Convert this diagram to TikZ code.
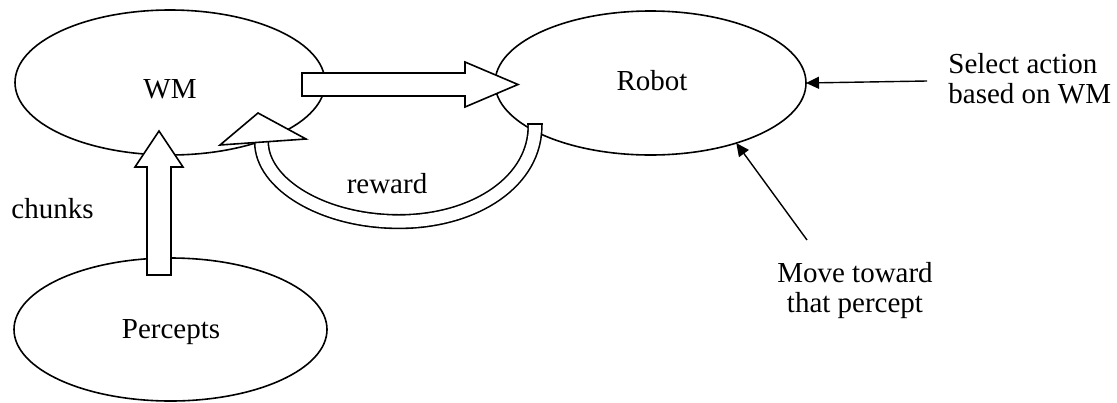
\documentclass[tikz,border=0pt]{standalone}
\usepackage{fontspec}
\setmainfont{Liberation Serif}
\usetikzlibrary{shapes.geometric,arrows.meta,positioning}

\tikzset{
  blob/.style = {draw, ellipse, line width = 0.8pt, inner sep = 0pt, outer sep = 0pt},
  hollow/.style = {draw, fill = white, line width = 0.8pt, line join = miter},
  pointer/.style = {-{Triangle[length = 6.5pt, width = 6pt]}, line width = 0.7pt},
  lbl/.style = {font = \fontsize{14.5}{15}\selectfont, inner sep = 0pt}
}

\begin{document}
\begin{tikzpicture}[x = 0.5pt, y = -0.5pt]
    \useasboundingbox (0,0) rectangle (1117,402);
    % the three ellipses
    \node[blob, minimum width = 155pt, minimum height = 72.5pt] (wm) at (170,82.5) {};
    \node[blob, minimum width = 155.5pt, minimum height = 72pt] (robot) at (650.5,83) {};
    \node[blob, minimum width = 156.5pt, minimum height = 71.5pt] (percepts) at (170.5,329.5) {};
    \begin{scope}[every node/.append style = {lbl, anchor = base}]
        \node (wmtext) at (170,98) {WM};
        \node (robottext) at (652,90) {Robot};
        \node (percepttext) at (171,338) {Percepts};
        \node (rewardtext) at (387,193) {reward};
        \node (chunktext) at (52.5,218) {chunks};
    \end{scope}
    \node[lbl, anchor = north west, align = left] (select) at (948,53) {Select action\\based on WM};
    \node[lbl, anchor = north, align = center] (move) at (855,262) {Move toward\\that percept};
    % end points of the arrows
    \coordinate (wmout) at (302,84.5);
    \coordinate (robotin) at (518,84.5);
    \coordinate (percout) at (159,275);
    \coordinate (wmin) at (159,131);
    \coordinate (robotback) at (535,124);
    \coordinate (shaftend) at (261.5,142);
    \coordinate (selecttail) at (927,81);
    \coordinate (movetail) at (807,240);
    % block arrows
    \draw[hollow] (wmout) ++(0,-11.5) -- ++(163,0) -- ++(0,-11) -- (robotin)
        -- ++(-53,22.5) -- ++(0,-11) -- ++(-163,0) -- cycle;
    \draw[hollow] (percout) ++(-12,0) -- ++(0,-108) -- ++(-12,0) -- (wmin)
        -- ++(24,36) -- ++(-12,0) -- ++(0,108) -- cycle;
    \draw[line width = 0.8pt, double = white, double distance = 6pt]
        (robotback) .. controls (536.5,181) and (475,221.6) .. (399,221.6)
        .. controls (323,221.6) and (261.5,184) .. (shaftend);
    \draw[line width = 0.8pt] ([xshift = -3.8pt]robotback) -- ([xshift = 3.8pt]robotback);
    \draw[hollow] (shaftend) ++(-41.5,3) -- ++(38,-32) -- ++(48,26) -- cycle;
    % thin arrows
    \draw[pointer] (selecttail) -- (robot.east);
    \draw[pointer] (movetail) -- (robot.-35);
\end{tikzpicture}
\end{document}
